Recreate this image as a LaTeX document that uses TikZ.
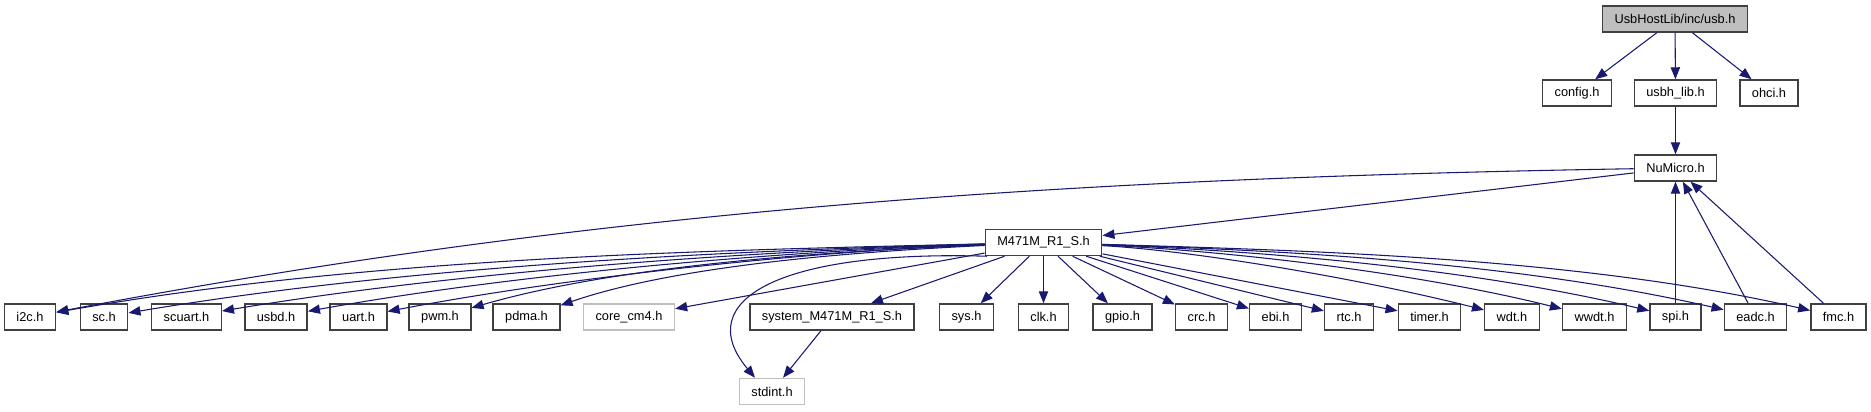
\documentclass[tikz,border=0pt]{standalone}
\usepackage{fontspec}
\setmainfont{Liberation Sans}
\usetikzlibrary{arrows.meta,positioning}
\definecolor{edgeblue}{HTML}{191970}
\definecolor{nodegray}{HTML}{BFBFBF}

\begin{document}
\begin{tikzpicture}[
  x=0.75pt, y=-0.75pt,
  file/.style={draw=black!75, line width=1.1pt, fill=white, minimum height=19.5pt,
    inner xsep=9pt, inner ysep=0pt, font=\fontsize{9.6}{11}\selectfont},
  sysfile/.style={file, draw=nodegray},
  dep/.style={-{Triangle[length=9pt,width=7pt]}, edgeblue, line width=0.8pt}
]
  \useasboundingbox (0,0) rectangle (1871,411);

  \node[file, fill=nodegray] (usb) at (1675,19) {UsbHostLib/inc/usb.h};
  \node[file] (config) at (1577,93) {config.h};
  \node[file] (usbhlib) at (1675.5,93) {usbh\_lib.h};
  \node[file] (ohci) at (1769,93) {ohci.h};
  \node[file] (numicro) at (1675.5,168) {NuMicro.h};
  \node[file] (m471) at (1043.5,242.5) {M471M\_R1\_S.h};

  % bottom row
  \foreach \n/\x in {i2c/30, sc/104, scuart/186.5, usbd/276, uart/358.5, pwm/440,
      pdma/526.5, sys/966.5, clk/1043.5, gpio/1122.5, crc/1201.5, ebi/1275.5,
      rtc/1349, timer/1429.5, wdt/1512, wwdt/1594.5, spi/1675.5, eadc/1755.5, fmc/1838.5}
    \node[file] (\n) at (\x,317) {\n.h};
  \node[sysfile] (corecm) at (629,317) {core\_cm4.h};
  \node[file] (system) at (832,317) {system\_M471M\_R1\_S.h};
  \node[sysfile] (stdint) at (772,391.5) {stdint.h};

  \foreach \n in {config,usbhlib,ohci}
    \draw[dep] (usb) -- (\n);
  \draw[dep] (usbhlib) -- (numicro);
  \draw[dep] (numicro) -- (m471);
  \draw[dep] (numicro) .. controls +(-590,10) and +(580,-110) .. (i2c);
  \foreach \n in {spi,eadc,fmc}
    \draw[dep] (\n) -- (numicro);

  % fan out of M471M_R1_S.h
  \foreach \n/\a/\b in {i2c/340/60, sc/310/52, scuart/280/47, usbd/250/45,
      uart/220/42, pwm/190/55, pdma/160/55}
    \draw[dep] (m471) .. controls +(-\a,8) and +(\a,-\b) .. (\n);
  \foreach \n in {corecm,system,sys,clk,gpio,crc,ebi,rtc,timer}
    \draw[dep] (m471) -- (\n);
  \foreach \n/\a/\b in {wdt/150/38, wwdt/180/45, spi/210/50, eadc/240/55, fmc/260/60}
    \draw[dep] (m471) .. controls +(\a,8) and +(-\a,-\b) .. (\n);
  \draw[dep] ([xshift=2pt]m471.south west) .. controls (780,250) and (690,300)
    .. ([xshift=-12.75pt]stdint.north);
  \draw[dep] (system) -- (stdint);
\end{tikzpicture}
\end{document}
